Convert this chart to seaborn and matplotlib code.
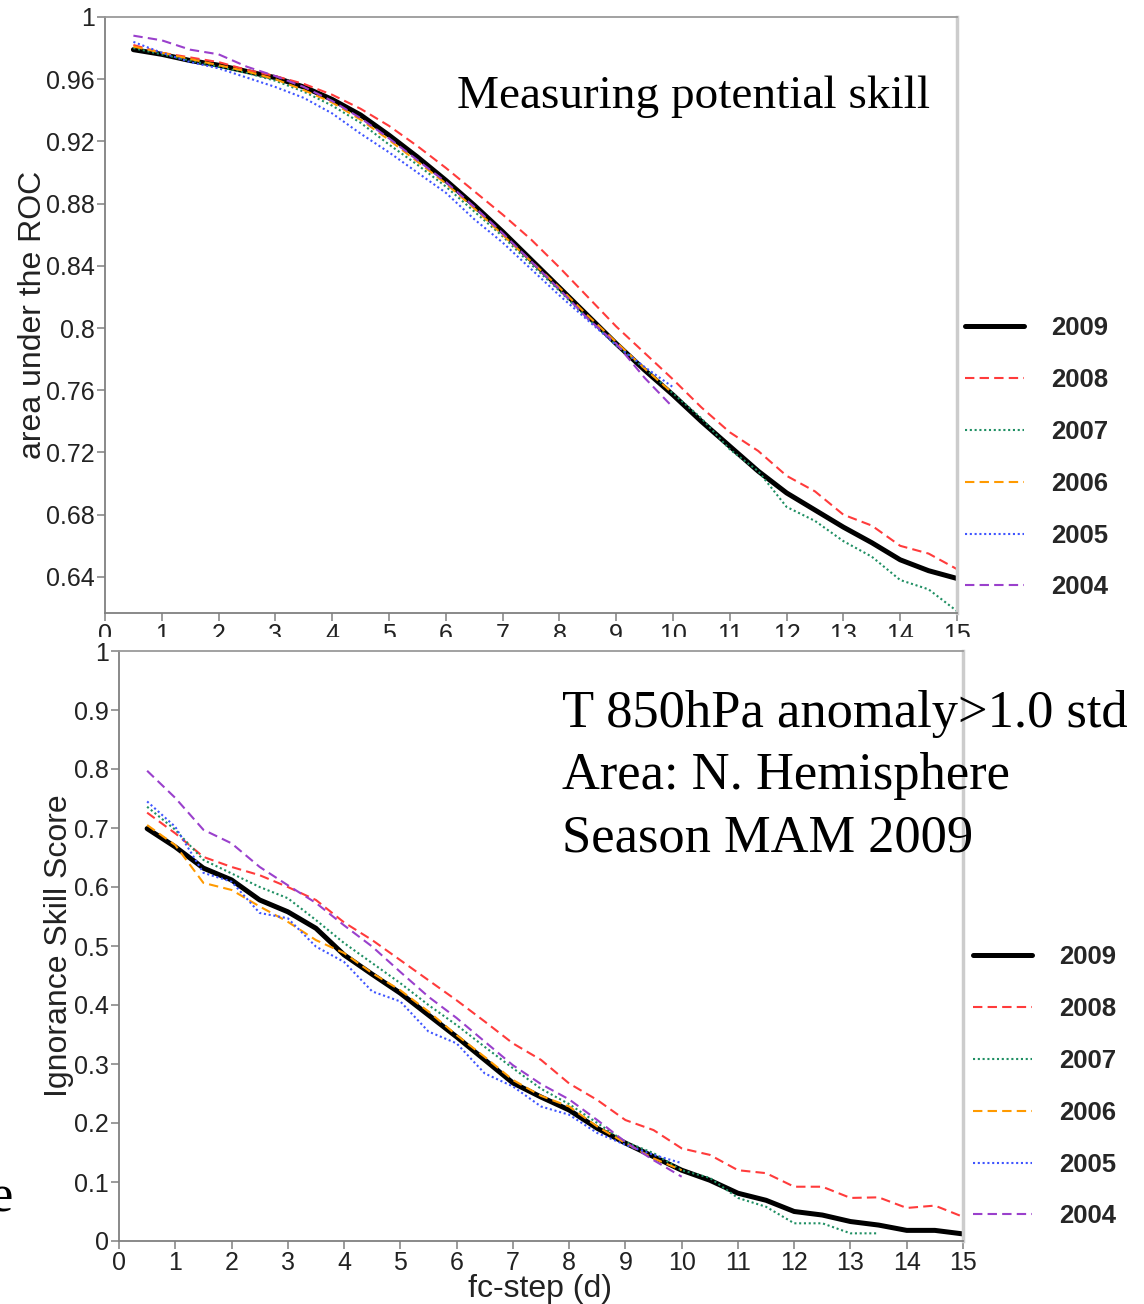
import numpy as np
import pandas as pd
import matplotlib
matplotlib.use("Agg")
import matplotlib.pyplot as plt
from matplotlib.patches import Rectangle
import seaborn as sns

# ---------------- data ----------------
steps_full = [0.5, 1, 1.5, 2, 2.5, 3, 3.5, 4, 4.5, 5, 5.5, 6, 6.5, 7, 7.5,
              8, 8.5, 9, 9.5, 10, 10.5, 11, 11.5, 12, 12.5, 13, 13.5, 14, 14.5, 15]

years = ["2009", "2008", "2007", "2006", "2005", "2004"]

# Top panel: area under the ROC
roc_2009 = [.979, .976, .972, .969, .965, .961, .955, .947, .937, .924, .910, .895, .879, .862, .844,
            .826, .808, .790, .773, .757, .740, .724, .708, .694, .683, .672, .662, .651, .644, .639]
roc_2008 = [.982, .977, .974, .971, .966, .962, .957, .950, .941, .930, .917, .903, .888, .873, .857,
            .839, .820, .801, .784, .767, .749, .733, .721, .705, .695, .680, .673, .660, .655, .645]
roc_2007 = [.980, .976, .972, .968, .964, .959, .952, .943, .932, .918, .905, .891, .875, .859, .841,
            .824, .806, .789, .774, .758, .742, .722, .708, .685, .676, .663, .653, .638, .632, .618]
roc_2006 = [.981, .977, .973, .969, .965, .960, .953, .945, .934, .921, .907, .893, .877, .860, .843,
            .826, .808, .791, .774, .758]
roc_2005 = [.984, .977, .971, .967, .961, .955, .948, .938, .925, .913, .900, .887, .870, .855, .838,
            .821, .805, .789, .775, .762]
roc_2004 = [.988, .985, .979, .976, .968, .962, .955, .946, .935, .922, .908, .894, .878, .861, .843,
            .825, .806, .790, .768, .749]

# Bottom panel: Ignorance Skill Score
iss_2009 = [.699, .668, .632, .612, .578, .558, .530, .485, .452, .420, .383, .346, .307, .268, .244,
            .222, .191, .166, .143, .120, .103, .081, .069, .050, .044, .033, .027, .018, .018, .012]
iss_2008 = [.726, .691, .651, .634, .620, .600, .578, .540, .510, .476, .442, .408, .372, .335, .307,
            .267, .239, .205, .188, .157, .146, .120, .115, .092, .092, .073, .074, .056, .060, .041]
iss_2007 = [.736, .697, .646, .623, .600, .581, .544, .505, .471, .437, .400, .366, .329, .293, .258,
            .232, .200, .168, .149, .120, .107, .073, .058, .030, .030, .013, .013]
iss_2006 = [.705, .671, .607, .595, .567, .541, .510, .488, .454, .425, .389, .349, .312, .273, .246,
            .228, .194, .166, .140, .120]
iss_2005 = [.745, .702, .624, .609, .556, .547, .499, .473, .423, .406, .355, .335, .284, .262, .228,
            .214, .183, .163, .146, .132]
iss_2004 = [.797, .751, .697, .674, .634, .603, .573, .535, .499, .456, .414, .378, .338, .298, .266,
            .240, .205, .168, .137, .109]

roc_series = [roc_2009, roc_2008, roc_2007, roc_2006, roc_2005, roc_2004]
iss_series = [iss_2009, iss_2008, iss_2007, iss_2006, iss_2005, iss_2004]

roc_yticks = [0.64, 0.68, 0.72, 0.76, 0.80, 0.84, 0.88, 0.92, 0.96, 1.0]
iss_yticks = [0, 0.1, 0.2, 0.3, 0.4, 0.5, 0.6, 0.7, 0.8, 0.9, 1.0]
xticks = list(range(0, 16))

# ---------------- styles ----------------
colors = ["#000000", "#ff3b3b", "#1f8f63", "#ff9a00", "#3f55ff", "#9a40cc"]
widths = [3.6, 1.5, 1.5, 1.5, 1.5, 1.5]
dashes = [None, (4.5, 2.5), (1, 1.3), (4.5, 2.5), (1, 1.3), (4.5, 2.5)]

sns.set_style("white")
plt.rcParams["font.family"] = ["Liberation Sans", "DejaVu Sans"]

W, H = 1144, 1304
fig = plt.figure(figsize=(W / 100, H / 100), dpi=100)

def fx(px):
    return px / W

def fy(py):
    return 1 - py / H

ax1 = fig.add_axes([fx(105), fy(613), (957 - 105) / W, (613 - 17) / H], zorder=0)
ax2 = fig.add_axes([fx(119), fy(1241), (963 - 119) / W, (1241 - 651) / H], zorder=1)

def draw(ax, series):
    for yr, vals, c, lw, d in zip(years, series, colors, widths, dashes):
        df = pd.DataFrame({"x": steps_full[:len(vals)], "y": vals})
        kw = dict(color=c, linewidth=lw, label=yr)
        if d is not None:
            kw["dashes"] = d
        sns.lineplot(data=df, x="x", y="y", ax=ax, legend=False, **kw)

draw(ax1, roc_series)
draw(ax2, iss_series)

def style_axes(ax):
    for s in ["left", "bottom", "top"]:
        ax.spines[s].set_color("#808080")
        ax.spines[s].set_linewidth(1.3)
    ax.spines["top"].set_color("#9a9a9a")
    ax.spines["right"].set_color("#cccccc")
    ax.spines["right"].set_linewidth(2.5)
    ax.tick_params(axis="both", direction="out", length=5.5, width=1.1, color="#808080",
                   labelsize=18, labelcolor="#222222", pad=2, left=True, bottom=True)
    ax.set_xlim(0, 15)
    ax.set_xticks(xticks)
    ax.set_xticklabels([str(t) for t in xticks])

style_axes(ax1)
style_axes(ax2)

ax1.set_ylim(0.6168, 1.0)
ax1.set_yticks(roc_yticks)
ax1.set_yticklabels(["%g" % t for t in roc_yticks])
ax2.set_ylim(0, 1.0)
ax2.set_yticks(iss_yticks)
ax2.set_yticklabels(["%g" % t for t in iss_yticks])

ax1.set_xlabel("")
ax1.set_ylabel("area under the ROC", fontsize=23, color="#222222")
ax1.yaxis.set_label_coords((48 - 105) / 852, 0.5)
ax2.set_ylabel("Ignorance Skill Score", fontsize=23, color="#222222")
ax2.yaxis.set_label_coords((74 - 119) / 844, 0.5)
ax2.set_xlabel("fc-step (d)", fontsize=23, color="#222222")
ax2.xaxis.set_label_coords(0.499, (1241 - 1274) / 590)

# legends
def add_legend(ax, x_px, y_px):
    handles = ax.get_lines()[:len(years)]
    leg = ax.legend(handles, years, loc="upper left",
                    bbox_to_anchor=(fx(x_px), fy(y_px)), bbox_transform=fig.transFigure,
                    frameon=False, borderpad=0, borderaxespad=0, handlelength=2.3,
                    handletextpad=1.05, labelspacing=1.085,
                    prop={"family": "Liberation Sans", "weight": "bold", "size": 18.5})
    return leg

add_legend(ax1, 965, 316)
add_legend(ax2, 973, 945)

# white cover hiding the lower part of the top panel's x tick labels
fig.patches.append(Rectangle((0, 0), 1, fy(637), transform=fig.transFigure,
                             facecolor="white", edgecolor="none", zorder=0.5))

serif = ["Liberation Serif", "DejaVu Serif"]
fig.text(fx(457), fy(108), "Measuring potential skill", family=serif, fontsize=34,
         va="baseline", ha="left", color="black")
fig.text(fx(562), fy(727), "T 850hPa anomaly>1.0 std", family=serif, fontsize=37.8,
         va="baseline", ha="left", color="black")
fig.text(fx(562), fy(789), "Area: N. Hemisphere", family=serif, fontsize=37.8,
         va="baseline", ha="left", color="black")
fig.text(fx(562), fy(851), "Season MAM 2009", family=serif, fontsize=37.8,
         va="baseline", ha="left", color="black")
fig.text(fx(13), fy(1212), "e", family=serif, fontsize=37.8, va="baseline", ha="right",
         color="black")

fig.savefig("out.png", dpi=100, facecolor="white")
